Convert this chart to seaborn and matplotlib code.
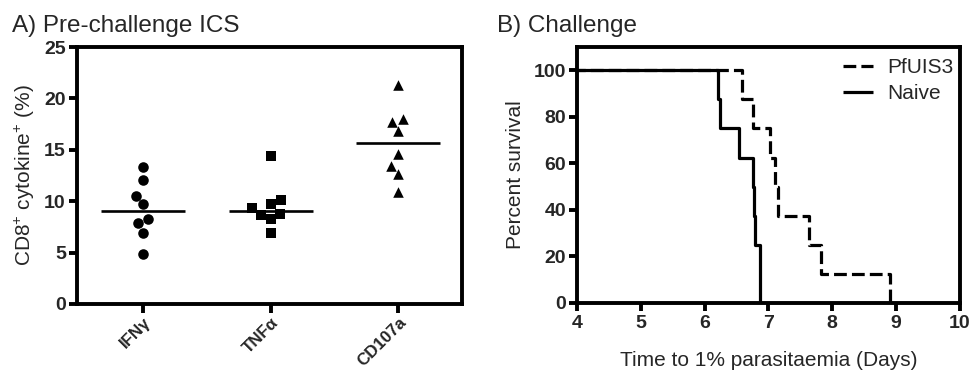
import numpy as np
import pandas as pd
import matplotlib
matplotlib.use("Agg")
import matplotlib.pyplot as plt
import seaborn as sns

# ---------------- data ----------------
categories = ["IFNγ", "TNFα", "CD107a"]
ifng = [13.3, 12.05, 10.5, 9.7, 8.3, 7.85, 6.95, 4.85]
tnfa = [14.4, 9.7, 8.8, 8.7, 8.3, 9.3, 10.1, 6.95]
cd107a = [21.35, 17.7, 17.95, 16.85, 14.55, 13.4, 12.6, 10.9]
cat_markers = ["o", "s", "^"]
left_yticks = [0, 5, 10, 15, 20, 25]

groups = ["PfUIS3", "Naive"]
pfuis3_days = [6.58, 6.75, 7.03, 7.11, 7.15, 7.63, 7.83, 8.91]
naive_days = [6.21, 6.24, 6.54, 6.75, 6.77, 6.79, 6.86, 6.86]
right_xticks = [4, 5, 6, 7, 8, 9, 10]
right_yticks = [0, 20, 40, 60, 80, 100]

# ---------------- style ----------------
sns.set_theme(style="ticks")
plt.rcParams["font.family"] = ["Liberation Sans", "DejaVu Sans"]
plt.rcParams["mathtext.fontset"] = "custom"
plt.rcParams["mathtext.rm"] = "Liberation Sans"
plt.rcParams["mathtext.it"] = "Liberation Sans:italic"
plt.rcParams["mathtext.bf"] = "Liberation Sans:bold"

fig = plt.figure(figsize=(9.73, 3.71), dpi=100)
axA = fig.add_axes([0.0791, 0.1806, 0.3957, 0.6927])
axB = fig.add_axes([0.593, 0.1833, 0.3936, 0.6900])

SPINE_LW = 2.8
TICK_FS = 14

def style_axes(ax):
    for s in ax.spines.values():
        s.set_visible(True)
        s.set_linewidth(SPINE_LW)
        s.set_color("black")
    ax.tick_params(axis="both", direction="out", length=5.5, width=SPINE_LW,
                   color="black", labelsize=TICK_FS, pad=2.5)
    for lab in ax.get_xticklabels() + ax.get_yticklabels():
        lab.set_fontweight("bold")

# ---------------- panel A ----------------
df = pd.DataFrame({
    "cat": np.repeat(categories, [len(ifng), len(tnfa), len(cd107a)]),
    "val": ifng + tnfa + cd107a,
})

sns.boxplot(data=df, x="cat", y="val", order=categories, width=0.66,
            showbox=False, showcaps=False, showfliers=False,
            whiskerprops={"visible": False},
            medianprops={"color": "black", "linewidth": 1.9},
            ax=axA, zorder=2)
for cat, mk in zip(categories, cat_markers):
    sns.swarmplot(data=df[df["cat"] == cat], x="cat", y="val", order=categories,
                  marker=mk, color="black", size=7.6, linewidth=0, ax=axA, zorder=3)

axA.set_xlim(-0.52, 2.5)
axA.set_ylim(0, 25)
axA.set_yticks(left_yticks)
axA.set_xlabel("")
axA.set_ylabel("CD8$^{+}$ cytokine$^{+}$ (%)", fontsize=15, labelpad=5)
style_axes(axA)
axA.set_xticks(range(len(categories)))
axA.set_xticklabels(categories, rotation=45, ha="right", rotation_mode="anchor",
                    fontweight="bold", fontsize=12.2)
axA.tick_params(axis="x", length=6.5, pad=1.5)

# ---------------- panel B ----------------
def km_curve(days):
    d = np.sort(np.asarray(days, dtype=float))
    n = len(d)
    t, counts = np.unique(d, return_counts=True)
    surv = 100.0 * (1 - np.cumsum(counts) / n)
    x = np.concatenate([[0.0], t])
    y = np.concatenate([[100.0], surv])
    return x, y

for name, days, ls in zip(groups, [pfuis3_days, naive_days],
                          [(0, (4, 1.6)), "-"]):
    x, y = km_curve(days)
    sns.lineplot(x=x, y=y, drawstyle="steps-post", estimator=None, sort=False,
                 color="black", linewidth=2.3, linestyle=ls, label=name,
                 ax=axB, solid_capstyle="butt", dash_capstyle="butt")

axB.set_xlim(4, 10)
axB.set_ylim(0, 110)
axB.set_xticks(right_xticks)
axB.set_yticks(right_yticks)
axB.set_xlabel("Time to 1% parasitaemia (Days)", fontsize=15, labelpad=13)
axB.set_ylabel("Percent survival", fontsize=15, labelpad=6)
style_axes(axB)
axB.tick_params(axis="x", length=6, pad=3)

leg = axB.legend(loc="upper right", frameon=False, fontsize=15,
                 handlelength=1.45, handletextpad=0.7, borderaxespad=0.0,
                 labelspacing=0.35, bbox_to_anchor=(1.005, 0.99))

# ---------------- titles ----------------
fig.text(12 / 973, 0.914, "A) Pre-challenge ICS", fontsize=17.5, ha="left", va="baseline")
fig.text(497 / 973, 0.914, "B) Challenge", fontsize=17.5, ha="left", va="baseline")

fig.savefig("out.png", dpi=100)
